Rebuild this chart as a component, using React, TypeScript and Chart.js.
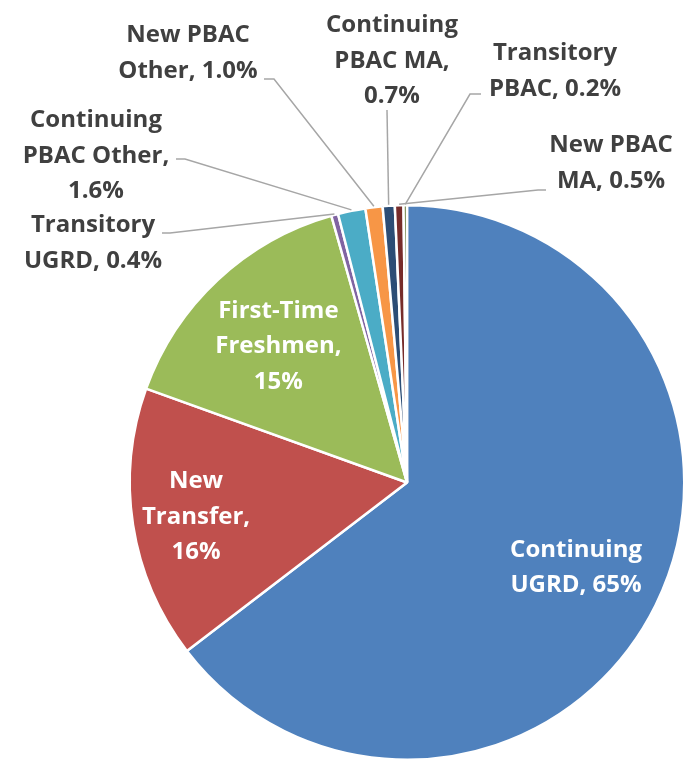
import React, { useEffect, useRef } from "react";
import { Chart, registerables } from "chart.js";
Chart.register(...registerables);

const categories = [
  "Continuing UGRD",
  "New Transfer",
  "First-Time Freshmen",
  "Transitory UGRD",
  "Continuing PBAC Other",
  "New PBAC Other",
  "Continuing PBAC MA",
  "New PBAC MA",
  "Transitory PBAC",
];
const values = [64.6, 15.9, 15.1, 0.4, 1.6, 1.0, 0.7, 0.5, 0.2];
const labelLines = [
  ["Continuing", "UGRD, 65%"],
  ["New", "Transfer,", "16%"],
  ["First-Time", "Freshmen,", "15%"],
  ["Transitory", "UGRD, 0.4%"],
  ["Continuing", "PBAC Other,", "1.6%"],
  ["New PBAC", "Other, 1.0%"],
  ["Continuing", "PBAC MA,", "0.7%"],
  ["New PBAC", "MA, 0.5%"],
  ["Transitory", "PBAC, 0.2%"],
];
const colors = [
  "#4F81BD",
  "#C0504D",
  "#9BBB59",
  "#8064A2",
  "#4BACC6",
  "#F79646",
  "#2C4D75",
  "#772C2A",
  "#5F7530",
];

// Label layout (positions of text blocks and leader-line anchors)
type Layout =
  | { inside: true; rf: number }
  | { inside: false; cx: number; base: number; ax: number; ay: number; stub: number };
const labelLayout: Layout[] = [
  { inside: true, rf: 0.68 },
  { inside: true, rf: 0.77 },
  { inside: true, rf: 0.68 },
  { inside: false, cx: 93, base: 232, ax: 162, ay: 233, stub: 8 },
  { inside: false, cx: 96, base: 127, ax: 176, ay: 159, stub: 9 },
  { inside: false, cx: 188, base: 42, ax: 264, ay: 79, stub: 10 },
  { inside: false, cx: 392, base: 32, ax: 387, ay: 110, stub: 0 },
  { inside: false, cx: 611, base: 152, ax: 546, ay: 190, stub: -8 },
  { inside: false, cx: 555, base: 60, ax: 481, ay: 94, stub: -11 },
];

const FONT = "bold 24px 'Open Sans', Lato, sans-serif";
const LINE_H = 35.5;
const CAP_H = 17;

const labelPlugin = {
  id: "pieLabels",
  afterDatasetsDraw(chart: any) {
    const ctx = chart.ctx;
    const meta = chart.getDatasetMeta(0);
    ctx.save();
    ctx.font = FONT;
    ctx.textAlign = "center";
    ctx.textBaseline = "alphabetic";
    meta.data.forEach((arc: any, i: number) => {
      const p = arc.getProps(["x", "y", "startAngle", "endAngle", "outerRadius"], true);
      const mid = (p.startAngle + p.endAngle) / 2;
      const lay = labelLayout[i];
      const lines = labelLines[i];
      if (lay.inside) {
        const r = p.outerRadius * lay.rf;
        const cx = p.x + Math.cos(mid) * r;
        const cy = p.y + Math.sin(mid) * r;
        const first = cy - ((lines.length - 1) * LINE_H) / 2 + CAP_H / 2;
        ctx.fillStyle = "#FFFFFF";
        lines.forEach((t, k) => ctx.fillText(t, cx, first + k * LINE_H));
      } else {
        const ex = p.x + Math.cos(mid) * (p.outerRadius + 1);
        const ey = p.y + Math.sin(mid) * (p.outerRadius + 1);
        ctx.strokeStyle = "#A6A6A6";
        ctx.lineWidth = 1.5;
        ctx.beginPath();
        ctx.moveTo(lay.ax, lay.ay);
        ctx.lineTo(lay.ax + lay.stub, lay.ay);
        ctx.lineTo(ex, ey);
        ctx.stroke();
        ctx.fillStyle = "#404040";
        lines.forEach((t, k) => ctx.fillText(t, lay.cx, lay.base + k * LINE_H));
      }
    });
    ctx.restore();
  },
};

export default function App() {
  const ref = useRef<HTMLCanvasElement>(null);
  useEffect(() => {
    if (!ref.current) return;
    const chart = new Chart(ref.current, {
      type: "pie",
      data: {
        labels: categories,
        datasets: [
          {
            data: values,
            backgroundColor: colors,
            borderColor: "#FFFFFF",
            borderWidth: 2.5,
          },
        ],
      },
      options: {
        responsive: false,
        maintainAspectRatio: false,
        animation: false,
        layout: { padding: { left: 128, right: 0, top: 204, bottom: 0 } },
        plugins: {
          legend: { display: false },
          tooltip: { enabled: false },
        },
      },
      plugins: [labelPlugin],
    });
    return () => chart.destroy();
  }, []);
  return (
    <div style={{ position: "absolute", left: 0, top: 0, width: 686, height: 761, background: "#fff" }}>
      <canvas ref={ref} width={686} height={761} style={{ display: "block" }} />
    </div>
  );
}
